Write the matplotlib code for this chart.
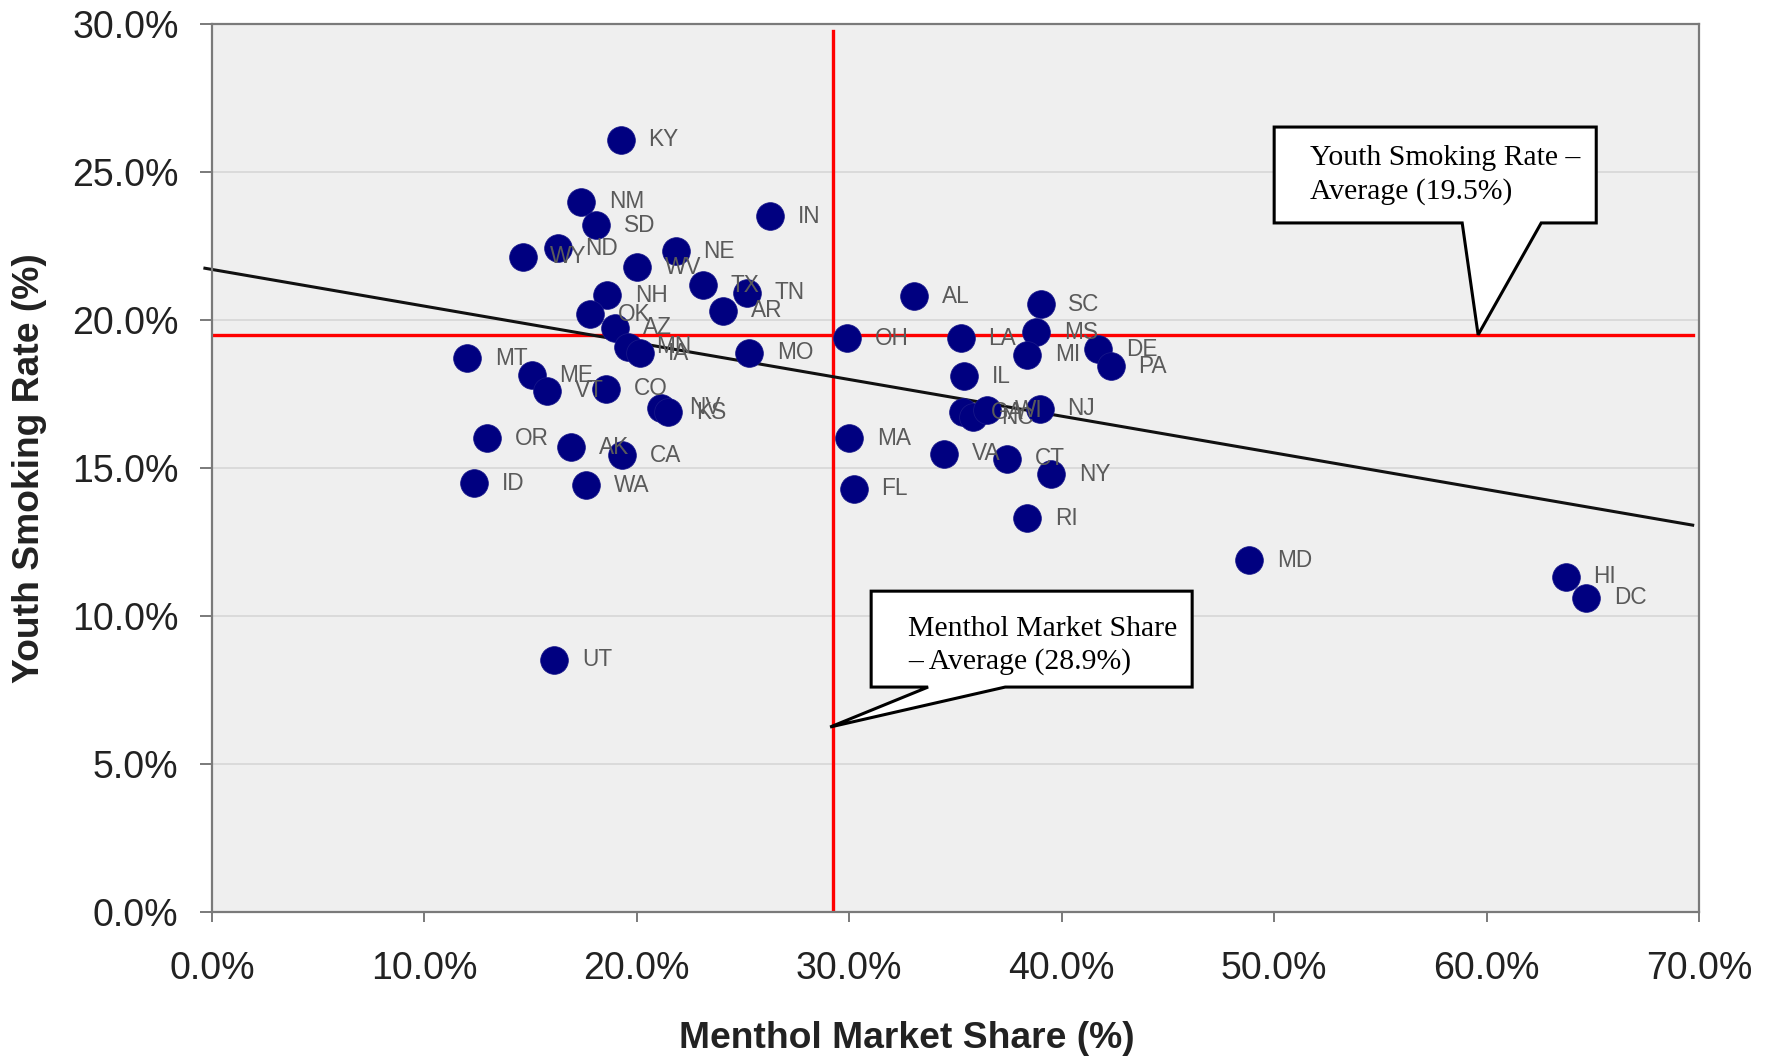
import matplotlib
matplotlib.use("Agg")
import matplotlib.pyplot as plt
from matplotlib.patches import Polygon

plt.rcParams["font.family"] = ["Liberation Sans", "DejaVu Sans"]

# state, menthol market share (%), youth smoking rate (%)
states = ["KY", "NM", "SD", "IN", "ND", "WY", "WV", "NE", "TX", "TN",
          "AR", "NH", "OK", "AZ", "MN", "IA", "MT", "ME", "VT", "CO",
          "NV", "KS", "MO", "OR", "AK", "CA", "ID", "WA", "UT", "OH",
          "MA", "FL", "AL", "LA", "IL", "SC", "MS", "MI", "DE", "PA",
          "NJ", "GA", "NC", "WI", "VA", "CT", "NY", "RI", "MD", "HI", "DC"]
menthol = [19.24, 17.38, 18.07, 26.29, 16.27, 14.62, 20.03, 21.83, 23.11, 25.18,
           24.06, 18.60, 17.80, 18.97, 19.60, 20.14, 12.03, 15.05, 15.79, 18.55,
           21.15, 21.47, 25.28, 12.93, 16.90, 19.29, 12.34, 17.60, 16.11, 29.89,
           30.00, 30.21, 33.07, 35.25, 35.41, 39.01, 38.80, 38.37, 41.72, 42.30,
           38.96, 35.36, 35.83, 36.49, 34.46, 37.42, 39.49, 38.37, 48.82, 63.72, 64.68]
youth = [26.09, 24.00, 23.20, 23.50, 22.43, 22.13, 21.79, 22.32, 21.18, 20.92,
         20.31, 20.84, 20.20, 19.74, 19.09, 18.88, 18.71, 18.14, 17.61, 17.68,
         17.04, 16.89, 18.90, 16.01, 15.70, 15.44, 14.49, 14.41, 8.52, 19.39,
         16.01, 14.30, 20.80, 19.39, 18.10, 20.54, 19.58, 18.82, 19.01, 18.44,
         17.00, 16.89, 16.72, 16.96, 15.48, 15.32, 14.79, 13.30, 11.89, 11.33, 10.61]

# trend line end points
trend_x = [-0.33, 69.7]
trend_y = [21.75, 13.07]

avg_menthol = 29.24
avg_youth = 19.5

xticks = [0, 10, 20, 30, 40, 50, 60, 70]
yticks = [0, 5, 10, 15, 20, 25, 30]

fig = plt.figure(figsize=(17.66, 10.59), dpi=100)
ax = fig.add_axes([0.1200, 0.1388, 0.8421, 0.8385])
ax.set_facecolor("#efefef")
ax.set_xlim(0, 70)
ax.set_ylim(0, 30)

for y in yticks[1:-1]:
    ax.axhline(y, color="#d6d6d6", lw=1.2, zorder=0)

for s in ax.spines.values():
    s.set_color("#7a7a7a")
    s.set_linewidth(1.6)

ax.set_xticks(xticks)
ax.set_yticks(yticks)
ax.set_xticklabels(["%.1f%%" % v for v in xticks])
ax.set_yticklabels(["%.1f%%" % v for v in yticks])
ax.tick_params(axis="x", direction="out", length=7, width=1.4, color="#7a7a7a",
               pad=21, labelsize=27, labelcolor="#222222")
ax.tick_params(axis="y", direction="out", length=9, width=1.4, color="#7a7a7a",
               pad=15, labelsize=27, labelcolor="#222222")

ax.set_xlabel("Menthol Market Share (%)", fontsize=26.8, fontweight="bold", color="#222222")
ax.xaxis.set_label_coords(0.467, -0.142)
ax.xaxis.label.set_va("center")
ax.set_ylabel("Youth Smoking Rate (%)", fontsize=26.8, fontweight="bold", color="#222222")
ax.yaxis.set_label_coords(-0.1224, 0.5)
ax.yaxis.label.set_va("center")

# average lines and trend
ax.plot([0, 69.7], [avg_youth, avg_youth], color="#ff0000", lw=2.4, zorder=2)
ax.plot([avg_menthol, avg_menthol], [0, 29.75], color="#ff0000", lw=2.4, zorder=2)
ax.plot(trend_x, trend_y, color="#111111", lw=2.2, zorder=2, clip_on=False)

ax.scatter(menthol, youth, s=400, color="#000080", edgecolors="#1a1a8a",
           linewidths=0.5, zorder=3)
for st, x, y in zip(states, menthol, youth):
    ax.annotate(st, (x, y), xytext=(20, 0), textcoords="offset points",
                va="center", ha="left", fontsize=16.3, color="#5a5a5a", zorder=4)

# callouts
call1 = [(50.0, 26.52), (65.16, 26.52), (65.16, 23.28), (62.57, 23.28),
         (59.6, 19.5), (58.85, 23.28), (50.0, 23.28)]
call2 = [(31.03, 10.84), (46.14, 10.84), (46.14, 7.60), (37.34, 7.60),
         (29.1, 6.25), (33.71, 7.60), (31.03, 7.60)]
for pts in (call1, call2):
    ax.add_patch(Polygon(pts, closed=True, facecolor="white", edgecolor="black",
                         lw=2.2, zorder=5, joinstyle="miter"))

ax.text(51.7, 24.9, "Youth Smoking Rate \u2013\nAverage (19.5%)", fontsize=21.4,
        family="Liberation Serif", va="center", ha="left", zorder=6, linespacing=1.3)
ax.text(32.77, 9.0, "Menthol Market Share\n\u2013 Average (28.9%)", fontsize=21.4,
        family="Liberation Serif", va="center", ha="left", zorder=6, linespacing=1.3)

fig.savefig("out.png", dpi=100)
